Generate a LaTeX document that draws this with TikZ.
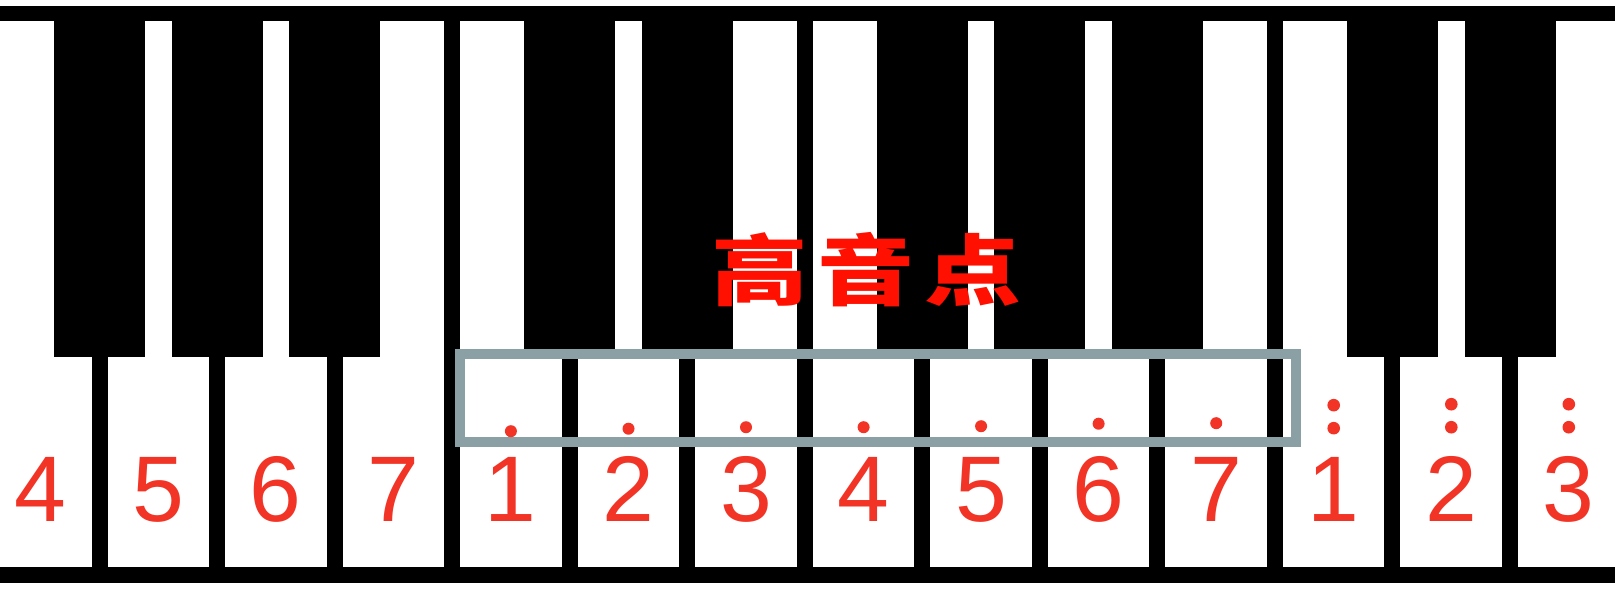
\documentclass[tikz,border=0pt]{standalone}
\usepackage{fontspec}
\setmainfont{Liberation Sans}
\newfontfamily\cjk{Noto Sans CJK SC}
\definecolor{keyred}{RGB}{242,52,38}
\definecolor{markred}{RGB}{255,16,0}
\definecolor{boxgray}{RGB}{138,160,164}

\begin{document}
\begin{tikzpicture}[x=0.01cm,y=-0.01cm,
    white key/.style={fill=white},
    black key/.style={fill=black},
    note/.style={text=keyred,font=\fontsize{26.5}{27}\selectfont,inner sep=0pt,anchor=base},
    dot/.style={fill=keyred},
    frame box/.style={draw=boxgray,line width=2.85pt,inner sep=0pt}]

    \fill[white] (0,0) rectangle (1615,590);
    \clip (0,0) rectangle (1615,590);
    \fill[black] (0,6) rectangle (1615,583);

    % keys
    \foreach \i in {0,...,13}
        \fill[white key] ({-10+\i*117.54},21) rectangle ({-26+(\i+1)*117.54},567);
    \foreach \j in {1,2,3,5,6,8,9,10,12,13}
        \fill[black key] ({-63.5+\j*117.54},21) rectangle ({27.5+\j*117.54},357);

    \node[frame box,minimum width=8.36cm,minimum height=0.88cm] (high) at (878,398) {};

    % numbered notes
    \node[note] at (40.8, 521) (f1) {4};
    \node[note] at (158.3, 521) (g1) {5};
    \node[note] at (275.8, 521) (a1) {6};
    \node[note] at (393.4, 521) (b1) {7};
    \node[note] at (510.9, 521) (c2) {1};
    \node[note] at (628.5, 521) (d2) {2};
    \node[note] at (746.0, 521) (e2) {3};
    \node[note] at (863.6, 521) (f2) {4};
    \node[note] at (981.1, 521) (g2) {5};
    \node[note] at (1098.6, 521) (a2) {6};
    \node[note] at (1216.2, 521) (b2) {7};
    \node[note] at (1333.7, 521) (c3) {1};
    \node[note] at (1451.3, 521) (d3) {2};
    \node[note] at (1568.8, 521) (e3) {3};

    % octave dots
    \fill[dot] ([yshift=0.25cm]c2.north) circle[radius=0.06cm];
    \fill[dot] ([yshift=0.265cm]d2.north) circle[radius=0.06cm];
    \fill[dot] ([yshift=0.28cm]e2.north) circle[radius=0.06cm];
    \fill[dot] ([yshift=0.29cm]f2.north) circle[radius=0.06cm];
    \fill[dot] ([yshift=0.30cm]g2.north) circle[radius=0.06cm];
    \fill[dot] ([yshift=0.315cm]a2.north) circle[radius=0.06cm];
    \fill[dot] ([yshift=0.33cm]b2.north) circle[radius=0.06cm];
    \fill[dot] ([yshift=0.28cm]c3.north) circle[radius=0.063cm] ([yshift=0.51cm]c3.north) circle[radius=0.063cm];
    \fill[dot] ([yshift=0.28cm]d3.north) circle[radius=0.063cm] ([yshift=0.51cm]d3.north) circle[radius=0.063cm];
    \fill[dot] ([yshift=0.28cm]e3.north) circle[radius=0.063cm] ([yshift=0.51cm]e3.north) circle[radius=0.063cm];

    \node[text=markred,font=\cjk\bfseries\fontsize{25}{25}\selectfont,inner sep=0pt] at (866, 270) (title) {\scalebox{1.1}[0.88]{高\hspace{0.09cm}音\hspace{0.09cm}点}};
\end{tikzpicture}
\end{document}
